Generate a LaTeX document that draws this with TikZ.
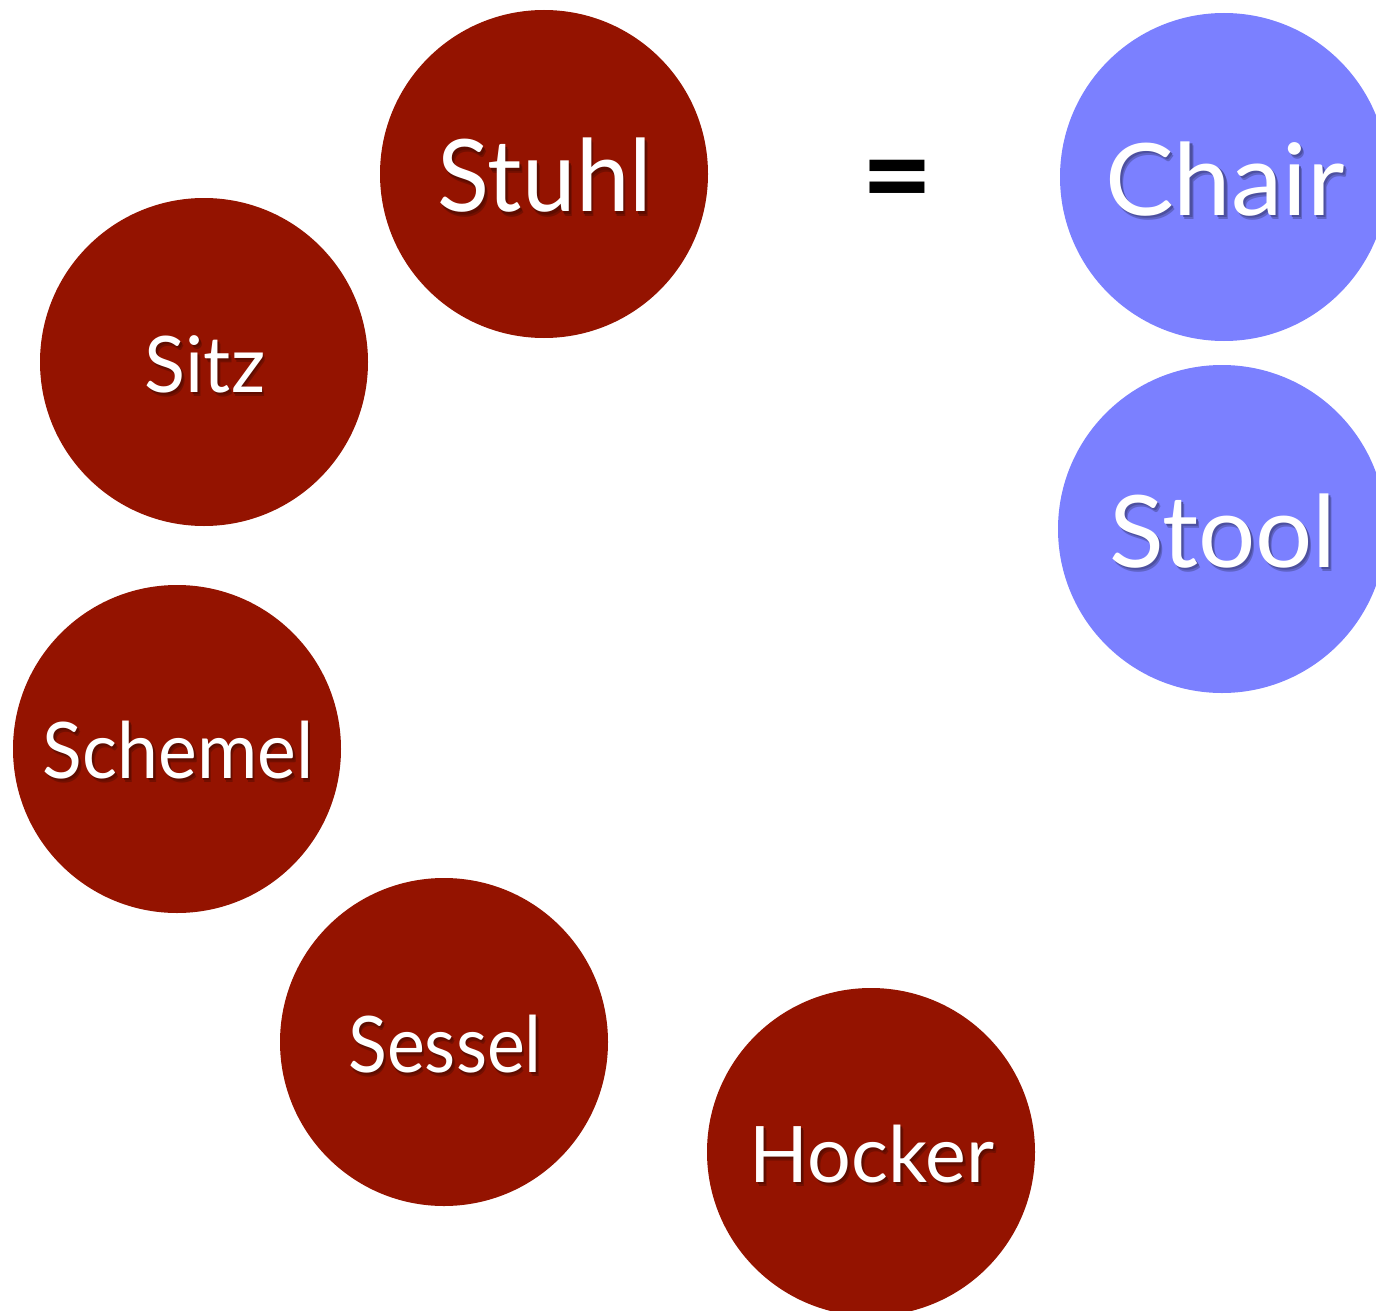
\documentclass[tikz,border=0pt]{standalone}
\usepackage{fontspec}
\setmainfont{Lato}
\definecolor{wordred}{HTML}{941300}
\definecolor{wordblue}{HTML}{7B80FF}
% white lettering with a soft shadow below and to the right
\newcommand\softshadow[3]{%
  \rlap{\kern1.5pt\raisebox{-2.1pt}{\textcolor{#1!45!#2}{#3}}}%
  \rlap{\kern1.0pt\raisebox{-1.4pt}{\textcolor{#1!75!#2}{#3}}}%
  \textcolor{white}{#3}}
\begin{document}
\begin{tikzpicture}[x=0.5pt,y=-0.5pt,
  disc/.style={circle, inner sep=0pt, minimum size=164pt, draw=none},
  german/.style={disc, fill=wordred},
  english/.style={disc, fill=wordblue},
  bigword/.style={font=\fontsize{50}{60}\selectfont},
  smallword/.style={font=\fontsize{39}{47}\selectfont},
  wordtext/.style={anchor=base, inner sep=0pt}]
\useasboundingbox (0,0) rectangle (1376,1311);
\clip (0,0) rectangle (1376,1311);

% discs: name / centre / colour style
\foreach \n/\x/\y/\s in {stuhl/544/174/german, sitz/204/362/german,
    schemel/177/749/german, sessel/444/1042/german, hocker/871/1152/german,
    chair/1224/177/english, stool/1222/529/english}
  \node[\s] (\n) at (\x,\y) {};

% labels: name / text / size / baseline offset / width factor / shadow tint / disc colour
\foreach \n/\t/\f/\b/\w/\c/\d in {
    stuhl/Stuhl/bigword/38/0.96/wordred!50!black/wordred,
    chair/Chair/bigword/38/1.03/wordblue!50!black/wordblue,
    stool/Stool/bigword/38/1.01/wordblue!50!black/wordblue,
    sitz/Sitz/smallword/30/0.97/wordred!50!black/wordred,
    schemel/Schemel/smallword/29/0.94/wordred!50!black/wordred,
    sessel/Sessel/smallword/30/0.92/wordred!50!black/wordred,
    hocker/Hocker/smallword/30/0.99/wordred!50!black/wordred}
  \node[wordtext, \f] (\n-text) at ([shift={(1,\b)}]\n.center)
    {\scalebox{\w}[1]{\softshadow{\c}{\d}{\t}}};

\node[font=\fontsize{62}{66}\selectfont\bfseries, inner sep=0pt] (equals) at (897,189) {=};
\end{tikzpicture}
\end{document}
